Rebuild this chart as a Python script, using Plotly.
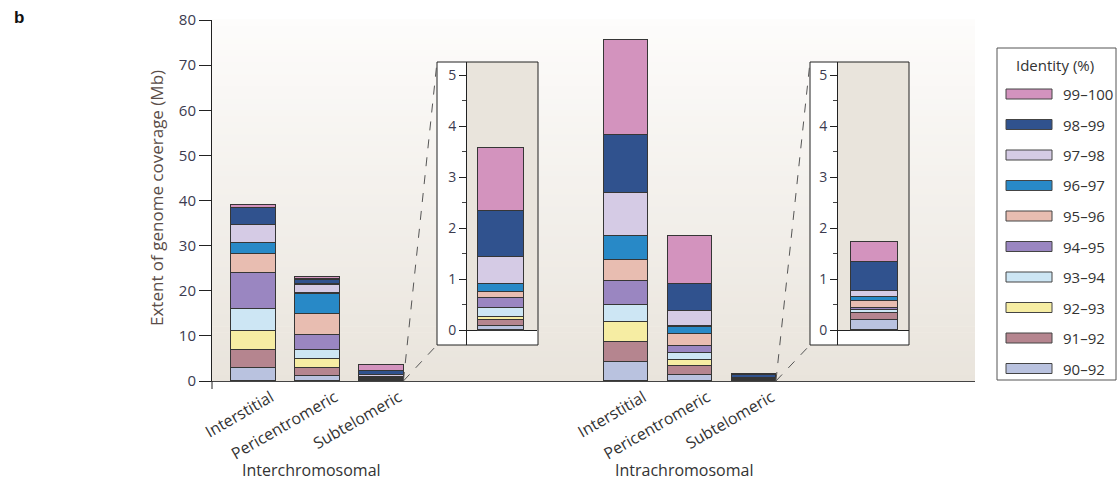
import plotly.graph_objects as go

# ---- data -------------------------------------------------------------
identity_bins = ["90–92", "91–92", "92–93", "93–94", "94–95",
                 "95–96", "96–97", "97–98", "98–99", "99–100"]
bin_colors = ["#b9c2df", "#b5858f", "#f6eda3", "#cde6f4", "#9a86c1",
              "#e8bdb1", "#2889c7", "#d5cbe5", "#30528e", "#d393be"]

regions = ["Interstitial", "Pericentromeric", "Subtelomeric"]
groups = ["Interchromosomal", "Intrachromosomal"]

# Mb of genome covered in each identity bin (90–92 first)
inter_interstitial = [3.0, 4.0, 4.2, 4.9, 8.0, 4.2, 2.4, 4.0, 3.7, 0.7]
inter_pericentromeric = [1.3, 1.7, 1.9, 2.0, 3.4, 4.7, 4.5, 2.0, 1.1, 0.6]
inter_subtelomeric = [0.08, 0.12, 0.06, 0.18, 0.20, 0.12, 0.16, 0.53, 0.90, 1.23]
intra_interstitial = [4.4, 4.4, 4.3, 3.9, 5.3, 4.6, 5.4, 9.5, 12.9, 21.0]
intra_pericentromeric = [1.5, 1.9, 1.4, 1.5, 1.6, 2.6, 1.7, 3.5, 5.9, 10.6]
intra_subtelomeric = [0.20, 0.14, 0.01, 0.05, 0.05, 0.13, 0.07, 0.13, 0.57, 0.39]

bars = [inter_interstitial, inter_pericentromeric, inter_subtelomeric,
        intra_interstitial, intra_pericentromeric, intra_subtelomeric]

# ---- geometry ---------------------------------------------------------
W, H = 1117, 481
PL, PR, PT, PB = 212, 975, 20, 381          # main plot area in px


def fx(px):
    return (px - PL) / (PR - PL)


def fy(py):
    return (PB - py) / (PB - PT)


GROUP_OFFSET = 5.82
positions = [0, 1, 2] + [GROUP_OFFSET + k for k in range(3)]
X_RANGE = [-0.64, 11.28]
BAR_W = 0.70


def xpaper(x):
    return (x - X_RANGE[0]) / (X_RANGE[1] - X_RANGE[0])


OUTLINE = "#363636"
FONT = "Open Sans"
TXT = "#333333"
NUM = "#3b3b4f"

fig = go.Figure()

# main stacked bars
for i, name in enumerate(identity_bins):
    fig.add_trace(go.Bar(
        x=positions, y=[b[i] for b in bars], width=BAR_W,
        marker=dict(color=bin_colors[i], line=dict(color=OUTLINE, width=1.1)),
        name=name, showlegend=False, xaxis="x", yaxis="y",
        hoverinfo="y+name"))

# zoomed subtelomeric bars
insets = [
    dict(axis="2", data=inter_subtelomeric, box=(437, 538), dom=(467, 537), xr=[-0.48, 0.52]),
    dict(axis="3", data=intra_subtelomeric, box=(810, 909), dom=(838, 909), xr=[-0.507, 0.493]),
]
INSET_TOP, INSET_BOT = 62, 345
INSET_YR = [-0.294, 5.255]
for ins in insets:
    for i, name in enumerate(identity_bins):
        fig.add_trace(go.Bar(
            x=[0], y=[ins["data"][i]], width=0.65,
            marker=dict(color=bin_colors[i], line=dict(color=OUTLINE, width=1.1)),
            name=name, showlegend=False,
            xaxis="x" + ins["axis"], yaxis="y" + ins["axis"],
            hoverinfo="y+name"))

fig.update_layout(
    width=W, height=H, barmode="stack",
    margin=dict(l=PL, r=W - PR, t=PT, b=H - PB, autoexpand=False),
    paper_bgcolor="white", plot_bgcolor="rgba(0,0,0,0)",
    font=dict(family=FONT, color=TXT),
    xaxis=dict(range=X_RANGE, tickmode="array", tickvals=positions,
               ticktext=regions + regions, tickangle=-30, ticks="",
               ticklabelshift=18, ticklabelstandoff=0,
               tickfont=dict(size=16, color=TXT),
               showline=True, linecolor="#444", linewidth=1,
               showgrid=False, zeroline=False),
    yaxis=dict(range=[0, 80], dtick=10, ticks="outside", ticklen=12,
               tickcolor="#222", tickwidth=1, showline=True,
               linecolor="#222", linewidth=1, showgrid=False,
               zeroline=False, tickfont=dict(size=15, color=NUM)),
)

for ins in insets:
    a = ins["axis"]
    fig.update_layout({
        "xaxis" + a: dict(domain=[fx(ins["dom"][0]), fx(ins["dom"][1])],
                          range=ins["xr"], anchor="y" + a, visible=False),
        "yaxis" + a: dict(domain=[fy(INSET_BOT), fy(INSET_TOP)],
                          range=INSET_YR, anchor="x" + a,
                          tickvals=[0, 1, 2, 3, 4, 5], ticks="outside",
                          ticklen=7, tickcolor="#222",
                          minor=dict(dtick=0.5, tick0=0, ticks="outside",
                                     ticklen=4, tickcolor="#444"),
                          showline=True, linecolor="#222", linewidth=1,
                          showgrid=False, zeroline=True,
                          zerolinecolor="#222", zerolinewidth=1,
                          tickfont=dict(size=14, color=NUM)),
    })

shapes = []

# soft vertical wash behind the main plot
top_c, bot_c = (253, 252, 251), (233, 228, 220)
NB = 60
for k in range(NB):
    t = (k + 0.5) / NB
    c = tuple(round(bot_c[j] + (top_c[j] - bot_c[j]) * t) for j in range(3))
    shapes.append(dict(type="rect", xref="paper", yref="paper", layer="below",
                       x0=0, x1=1, y0=k / NB, y1=(k + 1) / NB + 0.002,
                       fillcolor="rgb(%d,%d,%d)" % c, line=dict(width=0)))

# inset panels
for ins in insets:
    d0, d1 = fy(INSET_BOT), fy(INSET_TOP)
    zero = d0 + (0 - INSET_YR[0]) / (INSET_YR[1] - INSET_YR[0]) * (d1 - d0)
    shapes.append(dict(type="rect", xref="paper", yref="paper", layer="below",
                       x0=fx(ins["box"][0]), x1=fx(ins["box"][1]),
                       y0=fy(INSET_BOT), y1=fy(INSET_TOP),
                       fillcolor="white", line=dict(width=0)))
    shapes.append(dict(type="rect", xref="paper", yref="paper", layer="below",
                       x0=fx(ins["dom"][0]), x1=fx(ins["box"][1]),
                       y0=zero, y1=fy(INSET_TOP),
                       fillcolor="#e9e4dc", line=dict(width=0)))
    shapes.append(dict(type="rect", xref="paper", yref="paper", layer="above",
                       x0=fx(ins["box"][0]), x1=fx(ins["box"][1]),
                       y0=fy(INSET_BOT), y1=fy(INSET_TOP),
                       line=dict(color="#222", width=1)))

# dashed leader lines from each subtelomeric bar to its inset
for pos, ins in zip([positions[2], positions[5]], insets):
    x0 = xpaper(pos + BAR_W / 2)
    for yy in (INSET_TOP, INSET_BOT):
        shapes.append(dict(type="line", xref="paper", yref="paper",
                           x0=x0, y0=0, x1=fx(ins["box"][0]), y1=fy(yy),
                           line=dict(color="#555", width=1, dash="dash")))

# small downward stub of the y axis
shapes.append(dict(type="line", xref="paper", yref="paper",
                   x0=0, x1=0, y0=0, y1=fy(389), line=dict(color="#222", width=1)))

annotations = []


def label(text, px, py, size, color=TXT, xanchor="center", **kw):
    annotations.append(dict(text=text, xref="paper", yref="paper",
                            x=fx(px), y=fy(py), xanchor=xanchor,
                            yanchor="middle", showarrow=False,
                            font=dict(size=size, color=color,
                                      family=kw.pop("family", FONT)), **kw))


# legend drawn as a boxed key
LG_L, LG_R, LG_T, LG_B = 997, 1116, 48, 380
shapes.append(dict(type="rect", xref="paper", yref="paper",
                   x0=fx(LG_L), x1=fx(LG_R), y0=fy(LG_B), y1=fy(LG_T),
                   line=dict(color="#555", width=1), fillcolor="white",
                   layer="above"))
label("Identity (%)", 1055, 65, 15)
ROW0, ROW_STEP = 94, 30.5
for r, i in enumerate(reversed(range(len(identity_bins)))):
    yc = ROW0 + r * ROW_STEP
    shapes.append(dict(type="rect", xref="paper", yref="paper", layer="above",
                       x0=fx(1006), x1=fx(1052), y0=fy(yc + 5), y1=fy(yc - 5),
                       fillcolor=bin_colors[i],
                       line=dict(color="#444", width=1)))
    label(identity_bins[i], 1061, yc, 15, xanchor="left")

# group captions
for g, name in enumerate(groups):
    annotations.append(dict(text=name, xref="x", yref="paper",
                            x=positions[3 * g + 1] - 0.08, y=fy(470),
                            xanchor="center", yanchor="middle",
                            showarrow=False, font=dict(size=16, color=TXT)))

# y axis title
label("Extent of genome coverage (Mb)", 157, 198, 17, color="#5a4d48",
      textangle=-90)

# panel letter
label("<b>b</b>", 19, 17, 17, color="#111", family="Liberation Sans")

fig.update_layout(shapes=shapes, annotations=annotations)

fig.write_html("out.html")
